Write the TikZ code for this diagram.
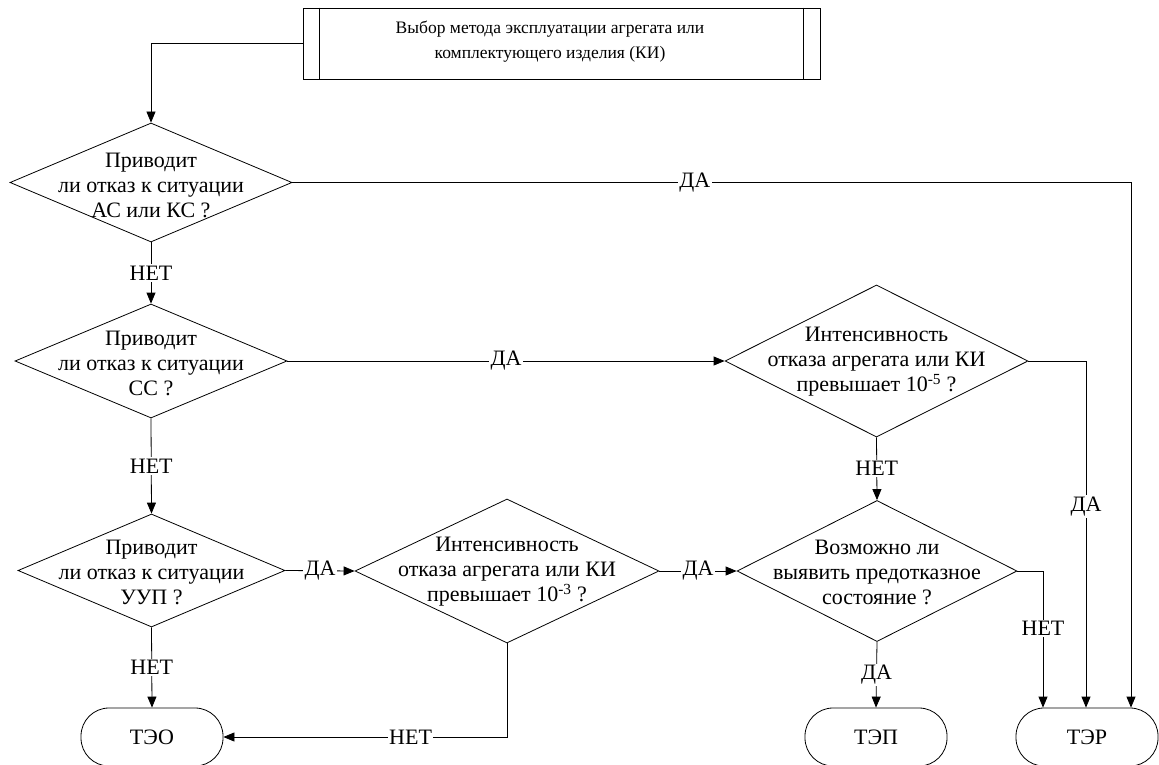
\documentclass[tikz,border=0pt]{standalone}
\usepackage{fontspec}
\setmainfont{Liberation Serif}
\newfontfamily\serif{Liberation Serif}
\usetikzlibrary{shapes.geometric,arrows.meta}
\begin{document}
\begin{tikzpicture}[x=1pt,y=-1pt, line width=0.8pt,
  font=\serif\fontsize{22}{25}\selectfont,
  dia/.style={draw, diamond, inner sep=0pt},
  txt/.style={align=center, inner sep=0pt},
  term/.style={draw, rectangle, rounded corners=28pt, minimum width=142pt, minimum height=58pt, inner sep=0pt},
  arr/.style={-{Triangle[length=11pt,width=9pt]}},
  lbl/.style={fill=white, inner sep=1.5pt}]
\useasboundingbox (0,0) rectangle (1159,765);

% top box
\node[draw, minimum width=517pt, minimum height=71pt, inner sep=0pt] (top) at (561.5,43.5) {};
\draw ([xshift=17pt]top.north west) -- ([xshift=17pt]top.south west);
\draw ([xshift=-17pt]top.north east) -- ([xshift=-17pt]top.south east);
\node[txt, font=\serif\fontsize{17.5}{25}\selectfont] (toptxt) at (550,42) {Выбор метода эксплуатации агрегата или\\комплектующего изделия (КИ)};

% diamonds
\node[dia, minimum width=282pt, minimum height=119pt] (d1) at (151,182.5) {};
\node[txt] (t1) at (151,185) {Приводит\\ли отказ к ситуации\\АС или КС ?};
\node[dia, minimum width=272pt, minimum height=114pt] (d2) at (151,361) {};
\node[txt] (t2) at (151,363) {Приводит\\ли отказ к ситуации\\СС ?};
\node[dia, minimum width=303pt, minimum height=152pt] (d3) at (876.5,361) {};
\node[txt] (t3) at (876.5,362) {Интенсивность\\отказа агрегата или КИ\\превышает 10\textsuperscript{-5} ?};
\node[dia, minimum width=267pt, minimum height=113pt] (d4) at (151.5,570.5) {};
\node[txt] (t4) at (151.5,572) {Приводит\\ли отказ к ситуации\\УУП ?};
\node[dia, minimum width=304pt, minimum height=144pt] (d5) at (507,571) {};
\node[txt] (t5) at (507,572) {Интенсивность\\отказа агрегата или КИ\\превышает 10\textsuperscript{-3} ?};
\node[dia, minimum width=280pt, minimum height=141pt] (d6) at (877,571) {};
\node[txt] (t6) at (877,572) {Возможно ли\\выявить предотказное\\состояние ?};

% terminators
\node[term] (teo) at (152,737) {ТЭО};
\node[term] (tep) at (876,737) {ТЭП};
\node[term] (ter) at (1087,737) {ТЭР};

% coordinates
\coordinate (c1) at (1131,182.5);
\coordinate (c3) at (1086,361);
\coordinate (c6) at (1043,571);

% connectors
\draw[arr] (top.west) -| (d1.north);
\draw[arr] (d1.east) -- node[lbl, pos=0.48] {ДА} (c1) -- (c1 |- ter.north);
\draw[arr] (d1.south) -- node[lbl] {НЕТ} (d2.north);
\draw[arr] (d2.east) -- node[lbl] {ДА} (d3.west);
\draw[arr] (d3.east) -- (c3) -- node[lbl, pos=0.42] {ДА} (c3 |- ter.north);
\draw[arr] (d3.south) -- node[lbl] {НЕТ} (d6.north);
\draw[arr] (d2.south) -- node[lbl] {НЕТ} (d4.north);
\draw[arr] (d4.east) -- node[lbl] {ДА} (d5.west);
\draw[arr] (d5.east) -- node[lbl] {ДА} (d6.west);
\draw[arr] (d6.east) -- (c6) -- node[lbl, pos=0.42] {НЕТ} (c6 |- ter.north);
\draw[arr] (d6.south) -- node[lbl] {ДА} (tep.north);
\draw[arr] (d4.south) -- node[lbl] {НЕТ} (teo.north);
\draw[arr] (d5.south) |- node[lbl, pos=0.67] {НЕТ} (teo.east);
\end{tikzpicture}
\end{document}
